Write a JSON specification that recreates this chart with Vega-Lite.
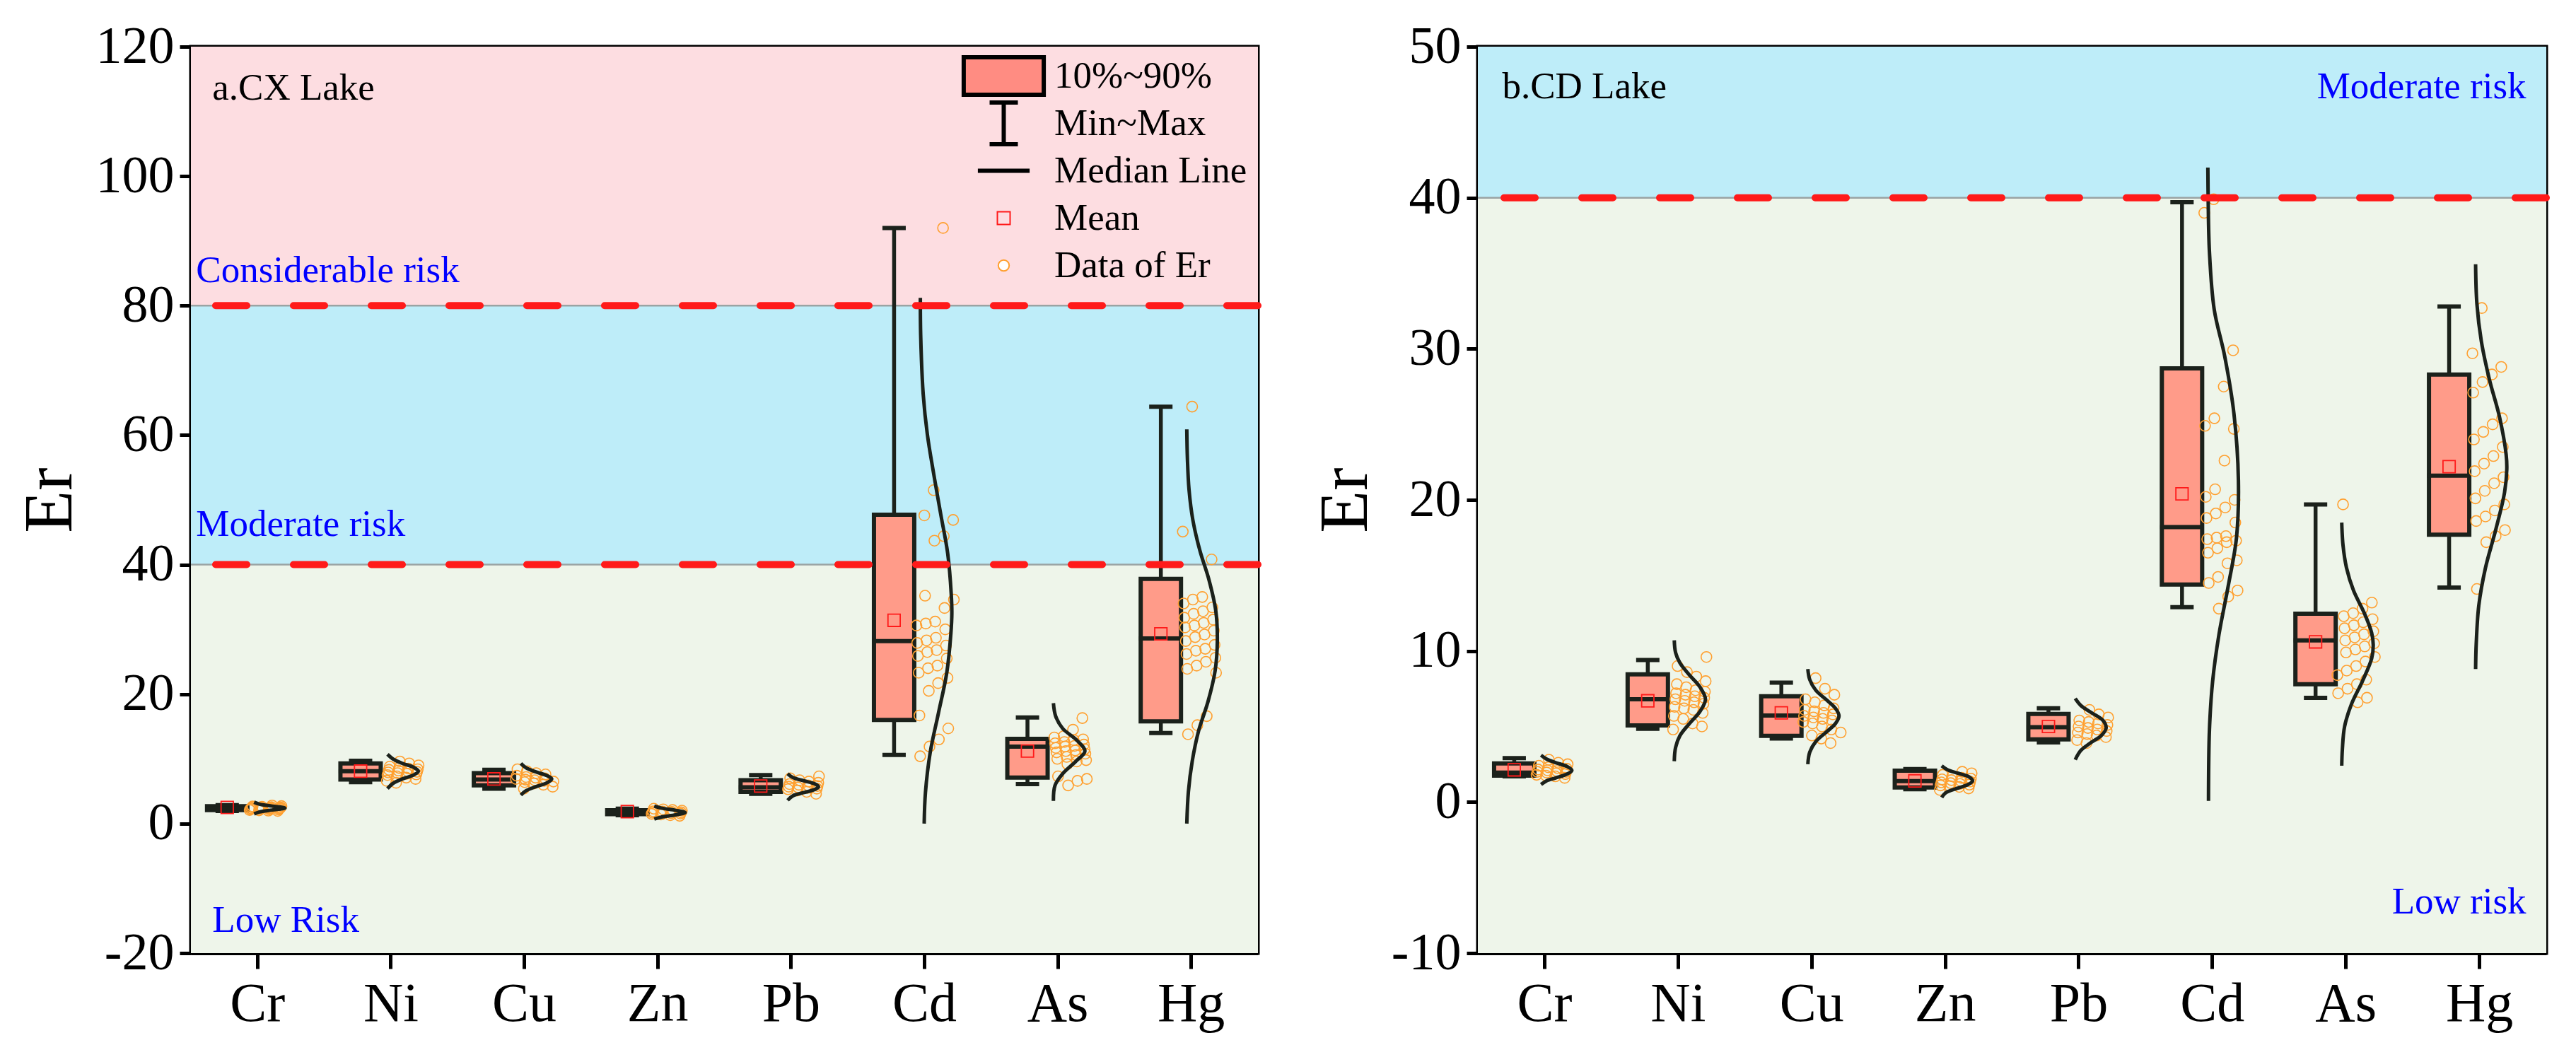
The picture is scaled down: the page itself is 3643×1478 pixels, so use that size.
{
  "$schema": "https://vega.github.io/schema/vega-lite/v6.json",
  "background": "white",
  "padding": {"left": 19, "top": 26, "right": 5, "bottom": 0},
  "config": {
    "font": "Liberation Serif",
    "view": {"stroke": "black", "strokeWidth": 5},
    "axis": {"labelFont": "Liberation Serif", "titleFont": "Liberation Serif", "domainWidth": 5, "domainColor": "black", "tickWidth": 5, "tickColor": "black", "labelColor": "black", "titleColor": "black", "grid": false},
    "axisY": {"labelFontSize": 74, "labelPadding": 8, "tickSize": 16, "titleFontSize": 98, "titlePadding": 14, "titleFontWeight": "normal", "labelFlush": false, "labelOverlap": false, "labelExpr": "'' + datum.value"},
    "axisX": {"labelFontSize": 78, "labelPadding": 11, "tickSize": 22, "labelAngle": 0, "bandPosition": 0.5}
  },
  "resolve": {
    "scale": {"color": "independent", "shape": "independent", "fill": "independent", "stroke": "independent", "strokeWidth": "independent"},
    "legend": {"color": "independent", "shape": "independent", "fill": "independent", "stroke": "independent", "strokeWidth": "independent"}
  },
  "datasets": {
    "bands": [
      {"lake": "a", "zone": "Low", "lo": -20, "hi": 40},
      {"lake": "a", "zone": "Moderate", "lo": 40, "hi": 80},
      {"lake": "a", "zone": "Considerable", "lo": 80, "hi": 120},
      {"lake": "b", "zone": "Low", "lo": -10, "hi": 40},
      {"lake": "b", "zone": "Moderate", "lo": 40, "hi": 50}
    ],
    "thr": [
      {"lake": "a", "v": 40}, {"lake": "a", "v": 80}, {"lake": "b", "v": 40}
    ],
    "notes": [
      {"lake": "a", "kind": "title", "side": "left", "text": "a.CX Lake", "y": 111.8},
      {"lake": "a", "kind": "risk", "side": "left2", "text": "Considerable risk", "y": 83.6},
      {"lake": "a", "kind": "risk", "side": "left2", "text": "Moderate risk", "y": 44.4},
      {"lake": "a", "kind": "risk", "side": "left", "text": "Low Risk", "y": -16.7},
      {"lake": "b", "kind": "title", "side": "left", "text": "b.CD Lake", "y": 46.6},
      {"lake": "b", "kind": "risk", "side": "right", "text": "Moderate risk", "y": 46.6},
      {"lake": "b", "kind": "risk", "side": "right", "text": "Low risk", "y": -7.4}
    ],
    "box": [
      {"lake": "a", "el": "Cr", "min": 1.95, "p10": 2.1, "med": 2.35, "p90": 2.7, "max": 2.85, "mean": 2.5},
      {"lake": "a", "el": "Ni", "min": 6.4, "p10": 6.8, "med": 8.1, "p90": 9.3, "max": 9.7, "mean": 8.1},
      {"lake": "a", "el": "Cu", "min": 5.4, "p10": 5.9, "med": 6.8, "p90": 7.8, "max": 8.3, "mean": 6.9},
      {"lake": "a", "el": "Zn", "min": 1.3, "p10": 1.45, "med": 1.75, "p90": 2.05, "max": 2.3, "mean": 1.85},
      {"lake": "a", "el": "Pb", "min": 4.6, "p10": 4.9, "med": 5.6, "p90": 6.7, "max": 7.5, "mean": 5.8},
      {"lake": "a", "el": "Cd", "min": 10.6, "p10": 16.0, "med": 28.2, "p90": 47.7, "max": 92.0, "mean": 31.4},
      {"lake": "a", "el": "As", "min": 6.1, "p10": 7.1, "med": 11.9, "p90": 13.1, "max": 16.4, "mean": 11.2},
      {"lake": "a", "el": "Hg", "min": 14.0, "p10": 15.8, "med": 28.6, "p90": 37.8, "max": 64.4, "mean": 29.3},
      {"lake": "b", "el": "Cr", "min": 1.7, "p10": 1.75, "med": 1.95, "p90": 2.55, "max": 2.9, "mean": 2.13},
      {"lake": "b", "el": "Ni", "min": 4.85, "p10": 5.07, "med": 6.8, "p90": 8.45, "max": 9.4, "mean": 6.7},
      {"lake": "b", "el": "Cu", "min": 4.2, "p10": 4.38, "med": 5.73, "p90": 7.0, "max": 7.9, "mean": 5.9},
      {"lake": "b", "el": "Zn", "min": 0.85, "p10": 0.96, "med": 1.38, "p90": 2.08, "max": 2.18, "mean": 1.4},
      {"lake": "b", "el": "Pb", "min": 3.95, "p10": 4.15, "med": 4.95, "p90": 5.83, "max": 6.2, "mean": 5.0},
      {"lake": "b", "el": "Cd", "min": 12.9, "p10": 14.4, "med": 18.2, "p90": 28.7, "max": 39.7, "mean": 20.4},
      {"lake": "b", "el": "As", "min": 6.9, "p10": 7.8, "med": 10.7, "p90": 12.46, "max": 19.7, "mean": 10.6},
      {"lake": "b", "el": "Hg", "min": 14.2, "p10": 17.7, "med": 21.6, "p90": 28.3, "max": 32.8, "mean": 22.2}
    ],
    "curve": [
      {"lake": "a", "el": "Cr", "v": 3.3, "d": 0.03}, {"lake": "a", "el": "Cr", "v": 3.0, "d": 0.2}, {"lake": "a", "el": "Cr", "v": 2.7, "d": 0.6}, {"lake": "a", "el": "Cr", "v": 2.4, "d": 1.0}, {"lake": "a", "el": "Cr", "v": 2.1, "d": 0.6}, {"lake": "a", "el": "Cr", "v": 1.8, "d": 0.2}, {"lake": "a", "el": "Cr", "v": 1.5, "d": 0.03},
      {"lake": "a", "el": "Ni", "v": 10.7, "d": 0.03}, {"lake": "a", "el": "Ni", "v": 10.0, "d": 0.2}, {"lake": "a", "el": "Ni", "v": 9.3, "d": 0.5}, {"lake": "a", "el": "Ni", "v": 8.7, "d": 0.85}, {"lake": "a", "el": "Ni", "v": 8.1, "d": 1.0}, {"lake": "a", "el": "Ni", "v": 7.5, "d": 0.85}, {"lake": "a", "el": "Ni", "v": 6.9, "d": 0.5}, {"lake": "a", "el": "Ni", "v": 6.2, "d": 0.2}, {"lake": "a", "el": "Ni", "v": 5.4, "d": 0.03},
      {"lake": "a", "el": "Cu", "v": 9.3, "d": 0.03}, {"lake": "a", "el": "Cu", "v": 8.6, "d": 0.2}, {"lake": "a", "el": "Cu", "v": 8.0, "d": 0.5}, {"lake": "a", "el": "Cu", "v": 7.4, "d": 0.85}, {"lake": "a", "el": "Cu", "v": 6.9, "d": 1.0}, {"lake": "a", "el": "Cu", "v": 6.3, "d": 0.85}, {"lake": "a", "el": "Cu", "v": 5.7, "d": 0.5}, {"lake": "a", "el": "Cu", "v": 5.1, "d": 0.2}, {"lake": "a", "el": "Cu", "v": 4.4, "d": 0.03},
      {"lake": "a", "el": "Zn", "v": 2.7, "d": 0.03}, {"lake": "a", "el": "Zn", "v": 2.4, "d": 0.25}, {"lake": "a", "el": "Zn", "v": 2.05, "d": 0.7}, {"lake": "a", "el": "Zn", "v": 1.7, "d": 1.0}, {"lake": "a", "el": "Zn", "v": 1.35, "d": 0.7}, {"lake": "a", "el": "Zn", "v": 1.0, "d": 0.25}, {"lake": "a", "el": "Zn", "v": 0.7, "d": 0.03},
      {"lake": "a", "el": "Pb", "v": 7.7, "d": 0.03}, {"lake": "a", "el": "Pb", "v": 7.1, "d": 0.2}, {"lake": "a", "el": "Pb", "v": 6.6, "d": 0.55}, {"lake": "a", "el": "Pb", "v": 6.1, "d": 0.9}, {"lake": "a", "el": "Pb", "v": 5.7, "d": 1.0}, {"lake": "a", "el": "Pb", "v": 5.3, "d": 0.9}, {"lake": "a", "el": "Pb", "v": 4.8, "d": 0.55}, {"lake": "a", "el": "Pb", "v": 4.3, "d": 0.2}, {"lake": "a", "el": "Pb", "v": 3.6, "d": 0.03},
      {"lake": "a", "el": "Cd", "v": 81.2, "d": 0.01}, {"lake": "a", "el": "Cd", "v": 75.5, "d": 0.02}, {"lake": "a", "el": "Cd", "v": 66.3, "d": 0.1}, {"lake": "a", "el": "Cd", "v": 60.1, "d": 0.23}, {"lake": "a", "el": "Cd", "v": 54.0, "d": 0.43}, {"lake": "a", "el": "Cd", "v": 47.8, "d": 0.65}, {"lake": "a", "el": "Cd", "v": 41.7, "d": 0.87}, {"lake": "a", "el": "Cd", "v": 35.5, "d": 0.98}, {"lake": "a", "el": "Cd", "v": 32.5, "d": 1.0}, {"lake": "a", "el": "Cd", "v": 29.4, "d": 0.97}, {"lake": "a", "el": "Cd", "v": 23.3, "d": 0.84}, {"lake": "a", "el": "Cd", "v": 17.1, "d": 0.58}, {"lake": "a", "el": "Cd", "v": 11.0, "d": 0.32}, {"lake": "a", "el": "Cd", "v": 4.8, "d": 0.17}, {"lake": "a", "el": "Cd", "v": 0.0, "d": 0.13},
      {"lake": "a", "el": "As", "v": 18.6, "d": 0.0}, {"lake": "a", "el": "As", "v": 16.6, "d": 0.07}, {"lake": "a", "el": "As", "v": 14.7, "d": 0.29}, {"lake": "a", "el": "As", "v": 12.9, "d": 0.73}, {"lake": "a", "el": "As", "v": 11.2, "d": 0.99}, {"lake": "a", "el": "As", "v": 9.6, "d": 0.7}, {"lake": "a", "el": "As", "v": 7.7, "d": 0.29}, {"lake": "a", "el": "As", "v": 5.9, "d": 0.05}, {"lake": "a", "el": "As", "v": 3.5, "d": 0.0},
      {"lake": "a", "el": "Hg", "v": 60.9, "d": 0.0}, {"lake": "a", "el": "Hg", "v": 56.3, "d": 0.02}, {"lake": "a", "el": "Hg", "v": 51.6, "d": 0.07}, {"lake": "a", "el": "Hg", "v": 46.9, "d": 0.19}, {"lake": "a", "el": "Hg", "v": 42.2, "d": 0.41}, {"lake": "a", "el": "Hg", "v": 37.6, "d": 0.7}, {"lake": "a", "el": "Hg", "v": 32.9, "d": 0.91}, {"lake": "a", "el": "Hg", "v": 28.3, "d": 0.96}, {"lake": "a", "el": "Hg", "v": 23.6, "d": 0.89}, {"lake": "a", "el": "Hg", "v": 18.9, "d": 0.67}, {"lake": "a", "el": "Hg", "v": 14.3, "d": 0.37}, {"lake": "a", "el": "Hg", "v": 9.6, "d": 0.17}, {"lake": "a", "el": "Hg", "v": 4.9, "d": 0.05}, {"lake": "a", "el": "Hg", "v": 0.0, "d": 0.0},
      {"lake": "b", "el": "Cr", "v": 3.1, "d": 0.03}, {"lake": "b", "el": "Cr", "v": 2.85, "d": 0.2}, {"lake": "b", "el": "Cr", "v": 2.6, "d": 0.5}, {"lake": "b", "el": "Cr", "v": 2.35, "d": 0.85}, {"lake": "b", "el": "Cr", "v": 2.1, "d": 1.0}, {"lake": "b", "el": "Cr", "v": 1.85, "d": 0.85}, {"lake": "b", "el": "Cr", "v": 1.6, "d": 0.5}, {"lake": "b", "el": "Cr", "v": 1.4, "d": 0.2}, {"lake": "b", "el": "Cr", "v": 1.16, "d": 0.03},
      {"lake": "b", "el": "Ni", "v": 10.7, "d": 0.02}, {"lake": "b", "el": "Ni", "v": 9.9, "d": 0.06}, {"lake": "b", "el": "Ni", "v": 9.2, "d": 0.2}, {"lake": "b", "el": "Ni", "v": 8.4, "d": 0.5}, {"lake": "b", "el": "Ni", "v": 7.6, "d": 0.83}, {"lake": "b", "el": "Ni", "v": 6.8, "d": 1.0}, {"lake": "b", "el": "Ni", "v": 6.0, "d": 0.83}, {"lake": "b", "el": "Ni", "v": 5.2, "d": 0.5}, {"lake": "b", "el": "Ni", "v": 4.4, "d": 0.2}, {"lake": "b", "el": "Ni", "v": 3.6, "d": 0.06}, {"lake": "b", "el": "Ni", "v": 2.7, "d": 0.02},
      {"lake": "b", "el": "Cu", "v": 8.8, "d": 0.02}, {"lake": "b", "el": "Cu", "v": 8.1, "d": 0.08}, {"lake": "b", "el": "Cu", "v": 7.4, "d": 0.27}, {"lake": "b", "el": "Cu", "v": 6.7, "d": 0.64}, {"lake": "b", "el": "Cu", "v": 6.2, "d": 0.89}, {"lake": "b", "el": "Cu", "v": 5.7, "d": 1.0}, {"lake": "b", "el": "Cu", "v": 5.2, "d": 0.89}, {"lake": "b", "el": "Cu", "v": 4.7, "d": 0.64}, {"lake": "b", "el": "Cu", "v": 4.0, "d": 0.27}, {"lake": "b", "el": "Cu", "v": 3.3, "d": 0.08}, {"lake": "b", "el": "Cu", "v": 2.5, "d": 0.02},
      {"lake": "b", "el": "Zn", "v": 2.4, "d": 0.03}, {"lake": "b", "el": "Zn", "v": 2.15, "d": 0.2}, {"lake": "b", "el": "Zn", "v": 1.9, "d": 0.55}, {"lake": "b", "el": "Zn", "v": 1.65, "d": 0.9}, {"lake": "b", "el": "Zn", "v": 1.4, "d": 1.0}, {"lake": "b", "el": "Zn", "v": 1.15, "d": 0.85}, {"lake": "b", "el": "Zn", "v": 0.9, "d": 0.5}, {"lake": "b", "el": "Zn", "v": 0.6, "d": 0.15}, {"lake": "b", "el": "Zn", "v": 0.3, "d": 0.03},
      {"lake": "b", "el": "Pb", "v": 6.85, "d": 0.03}, {"lake": "b", "el": "Pb", "v": 6.4, "d": 0.2}, {"lake": "b", "el": "Pb", "v": 5.9, "d": 0.55}, {"lake": "b", "el": "Pb", "v": 5.4, "d": 0.9}, {"lake": "b", "el": "Pb", "v": 4.9, "d": 1.0}, {"lake": "b", "el": "Pb", "v": 4.4, "d": 0.85}, {"lake": "b", "el": "Pb", "v": 3.9, "d": 0.5}, {"lake": "b", "el": "Pb", "v": 3.4, "d": 0.2}, {"lake": "b", "el": "Pb", "v": 2.8, "d": 0.03},
      {"lake": "b", "el": "Cd", "v": 42.0, "d": 0.0}, {"lake": "b", "el": "Cd", "v": 39.9, "d": 0.01}, {"lake": "b", "el": "Cd", "v": 36.4, "d": 0.05}, {"lake": "b", "el": "Cd", "v": 32.6, "d": 0.2}, {"lake": "b", "el": "Cd", "v": 29.5, "d": 0.53}, {"lake": "b", "el": "Cd", "v": 25.7, "d": 0.82}, {"lake": "b", "el": "Cd", "v": 21.3, "d": 0.96}, {"lake": "b", "el": "Cd", "v": 17.5, "d": 0.9}, {"lake": "b", "el": "Cd", "v": 14.3, "d": 0.64}, {"lake": "b", "el": "Cd", "v": 11.1, "d": 0.35}, {"lake": "b", "el": "Cd", "v": 8.0, "d": 0.15}, {"lake": "b", "el": "Cd", "v": 4.8, "d": 0.05}, {"lake": "b", "el": "Cd", "v": 0.07, "d": 0.02},
      {"lake": "b", "el": "As", "v": 18.5, "d": 0.01}, {"lake": "b", "el": "As", "v": 17.0, "d": 0.05}, {"lake": "b", "el": "As", "v": 15.5, "d": 0.16}, {"lake": "b", "el": "As", "v": 14.0, "d": 0.38}, {"lake": "b", "el": "As", "v": 12.5, "d": 0.72}, {"lake": "b", "el": "As", "v": 11.2, "d": 0.95}, {"lake": "b", "el": "As", "v": 10.4, "d": 1.0}, {"lake": "b", "el": "As", "v": 9.5, "d": 0.95}, {"lake": "b", "el": "As", "v": 8.0, "d": 0.66}, {"lake": "b", "el": "As", "v": 6.5, "d": 0.32}, {"lake": "b", "el": "As", "v": 5.0, "d": 0.1}, {"lake": "b", "el": "As", "v": 3.5, "d": 0.03}, {"lake": "b", "el": "As", "v": 2.4, "d": 0.01},
      {"lake": "b", "el": "Hg", "v": 35.6, "d": 0.02}, {"lake": "b", "el": "Hg", "v": 33.0, "d": 0.06}, {"lake": "b", "el": "Hg", "v": 30.5, "d": 0.2}, {"lake": "b", "el": "Hg", "v": 28.0, "d": 0.45}, {"lake": "b", "el": "Hg", "v": 25.5, "d": 0.77}, {"lake": "b", "el": "Hg", "v": 23.0, "d": 0.98}, {"lake": "b", "el": "Hg", "v": 22.0, "d": 1.0}, {"lake": "b", "el": "Hg", "v": 20.5, "d": 0.93}, {"lake": "b", "el": "Hg", "v": 18.0, "d": 0.65}, {"lake": "b", "el": "Hg", "v": 15.5, "d": 0.33}, {"lake": "b", "el": "Hg", "v": 13.0, "d": 0.12}, {"lake": "b", "el": "Hg", "v": 10.5, "d": 0.04}, {"lake": "b", "el": "Hg", "v": 8.8, "d": 0.02}
    ],
    "pts": [
      {"lake":"a","el":"Cr","v":1.95},{"lake":"a","el":"Cr","v":2.0},{"lake":"a","el":"Cr","v":2.05},{"lake":"a","el":"Cr","v":2.1},{"lake":"a","el":"Cr","v":2.15},{"lake":"a","el":"Cr","v":2.2},{"lake":"a","el":"Cr","v":2.2},{"lake":"a","el":"Cr","v":2.25},{"lake":"a","el":"Cr","v":2.3},{"lake":"a","el":"Cr","v":2.3},{"lake":"a","el":"Cr","v":2.35},{"lake":"a","el":"Cr","v":2.35},{"lake":"a","el":"Cr","v":2.4},{"lake":"a","el":"Cr","v":2.4},{"lake":"a","el":"Cr","v":2.45},{"lake":"a","el":"Cr","v":2.5},{"lake":"a","el":"Cr","v":2.5},{"lake":"a","el":"Cr","v":2.55},{"lake":"a","el":"Cr","v":2.6},{"lake":"a","el":"Cr","v":2.65},{"lake":"a","el":"Cr","v":2.7},{"lake":"a","el":"Cr","v":2.8},
      {"lake":"a","el":"Ni","v":6.3},{"lake":"a","el":"Ni","v":6.6},{"lake":"a","el":"Ni","v":6.9},{"lake":"a","el":"Ni","v":7.1},{"lake":"a","el":"Ni","v":7.3},{"lake":"a","el":"Ni","v":7.5},{"lake":"a","el":"Ni","v":7.6},{"lake":"a","el":"Ni","v":7.7},{"lake":"a","el":"Ni","v":7.8},{"lake":"a","el":"Ni","v":7.9},{"lake":"a","el":"Ni","v":8.0},{"lake":"a","el":"Ni","v":8.1},{"lake":"a","el":"Ni","v":8.2},{"lake":"a","el":"Ni","v":8.3},{"lake":"a","el":"Ni","v":8.4},{"lake":"a","el":"Ni","v":8.5},{"lake":"a","el":"Ni","v":8.6},{"lake":"a","el":"Ni","v":8.8},{"lake":"a","el":"Ni","v":9.0},{"lake":"a","el":"Ni","v":9.3},{"lake":"a","el":"Ni","v":9.6},
      {"lake":"a","el":"Cu","v":5.4},{"lake":"a","el":"Cu","v":5.7},{"lake":"a","el":"Cu","v":6.0},{"lake":"a","el":"Cu","v":6.2},{"lake":"a","el":"Cu","v":6.4},{"lake":"a","el":"Cu","v":6.5},{"lake":"a","el":"Cu","v":6.6},{"lake":"a","el":"Cu","v":6.7},{"lake":"a","el":"Cu","v":6.8},{"lake":"a","el":"Cu","v":6.9},{"lake":"a","el":"Cu","v":7.0},{"lake":"a","el":"Cu","v":7.1},{"lake":"a","el":"Cu","v":7.2},{"lake":"a","el":"Cu","v":7.4},{"lake":"a","el":"Cu","v":7.6},{"lake":"a","el":"Cu","v":7.8},{"lake":"a","el":"Cu","v":8.1},{"lake":"a","el":"Cu","v":8.4},
      {"lake":"a","el":"Zn","v":1.2},{"lake":"a","el":"Zn","v":1.3},{"lake":"a","el":"Zn","v":1.4},{"lake":"a","el":"Zn","v":1.5},{"lake":"a","el":"Zn","v":1.55},{"lake":"a","el":"Zn","v":1.6},{"lake":"a","el":"Zn","v":1.65},{"lake":"a","el":"Zn","v":1.7},{"lake":"a","el":"Zn","v":1.75},{"lake":"a","el":"Zn","v":1.8},{"lake":"a","el":"Zn","v":1.85},{"lake":"a","el":"Zn","v":1.9},{"lake":"a","el":"Zn","v":2.0},{"lake":"a","el":"Zn","v":2.1},{"lake":"a","el":"Zn","v":2.2},{"lake":"a","el":"Zn","v":2.3},
      {"lake":"a","el":"Pb","v":4.6},{"lake":"a","el":"Pb","v":4.9},{"lake":"a","el":"Pb","v":5.1},{"lake":"a","el":"Pb","v":5.3},{"lake":"a","el":"Pb","v":5.4},{"lake":"a","el":"Pb","v":5.5},{"lake":"a","el":"Pb","v":5.6},{"lake":"a","el":"Pb","v":5.7},{"lake":"a","el":"Pb","v":5.8},{"lake":"a","el":"Pb","v":5.9},{"lake":"a","el":"Pb","v":6.0},{"lake":"a","el":"Pb","v":6.1},{"lake":"a","el":"Pb","v":6.3},{"lake":"a","el":"Pb","v":6.5},{"lake":"a","el":"Pb","v":6.7},{"lake":"a","el":"Pb","v":7.0},{"lake":"a","el":"Pb","v":7.3},
      {"lake":"a","el":"Cd","v":92.0},{"lake":"a","el":"Cd","v":51.5},{"lake":"a","el":"Cd","v":47.6},{"lake":"a","el":"Cd","v":46.9},{"lake":"a","el":"Cd","v":44.4},{"lake":"a","el":"Cd","v":43.7},{"lake":"a","el":"Cd","v":35.2},{"lake":"a","el":"Cd","v":34.6},{"lake":"a","el":"Cd","v":33.3},{"lake":"a","el":"Cd","v":31.2},{"lake":"a","el":"Cd","v":30.9},{"lake":"a","el":"Cd","v":30.6},{"lake":"a","el":"Cd","v":30.0},{"lake":"a","el":"Cd","v":28.7},{"lake":"a","el":"Cd","v":28.3},{"lake":"a","el":"Cd","v":27.9},{"lake":"a","el":"Cd","v":27.5},{"lake":"a","el":"Cd","v":26.8},{"lake":"a","el":"Cd","v":26.5},{"lake":"a","el":"Cd","v":25.9},{"lake":"a","el":"Cd","v":25.5},{"lake":"a","el":"Cd","v":24.4},{"lake":"a","el":"Cd","v":24.0},{"lake":"a","el":"Cd","v":23.3},{"lake":"a","el":"Cd","v":22.5},{"lake":"a","el":"Cd","v":21.7},{"lake":"a","el":"Cd","v":20.5},{"lake":"a","el":"Cd","v":16.7},{"lake":"a","el":"Cd","v":14.7},{"lake":"a","el":"Cd","v":13.0},{"lake":"a","el":"Cd","v":11.9},{"lake":"a","el":"Cd","v":10.4},
      {"lake":"a","el":"As","v":16.3},{"lake":"a","el":"As","v":14.5},{"lake":"a","el":"As","v":13.5},{"lake":"a","el":"As","v":13.3},{"lake":"a","el":"As","v":13.0},{"lake":"a","el":"As","v":12.9},{"lake":"a","el":"As","v":12.6},{"lake":"a","el":"As","v":12.4},{"lake":"a","el":"As","v":12.2},{"lake":"a","el":"As","v":12.0},{"lake":"a","el":"As","v":11.9},{"lake":"a","el":"As","v":11.7},{"lake":"a","el":"As","v":11.5},{"lake":"a","el":"As","v":11.3},{"lake":"a","el":"As","v":11.2},{"lake":"a","el":"As","v":11.0},{"lake":"a","el":"As","v":10.8},{"lake":"a","el":"As","v":10.6},{"lake":"a","el":"As","v":10.3},{"lake":"a","el":"As","v":10.0},{"lake":"a","el":"As","v":9.8},{"lake":"a","el":"As","v":9.6},{"lake":"a","el":"As","v":9.2},{"lake":"a","el":"As","v":7.3},{"lake":"a","el":"As","v":6.9},{"lake":"a","el":"As","v":6.6},{"lake":"a","el":"As","v":5.9},
      {"lake":"a","el":"Hg","v":64.4},{"lake":"a","el":"Hg","v":45.1},{"lake":"a","el":"Hg","v":40.8},{"lake":"a","el":"Hg","v":35.0},{"lake":"a","el":"Hg","v":34.6},{"lake":"a","el":"Hg","v":34.0},{"lake":"a","el":"Hg","v":33.4},{"lake":"a","el":"Hg","v":32.8},{"lake":"a","el":"Hg","v":32.4},{"lake":"a","el":"Hg","v":31.8},{"lake":"a","el":"Hg","v":31.5},{"lake":"a","el":"Hg","v":31.0},{"lake":"a","el":"Hg","v":30.6},{"lake":"a","el":"Hg","v":30.3},{"lake":"a","el":"Hg","v":29.8},{"lake":"a","el":"Hg","v":29.2},{"lake":"a","el":"Hg","v":28.8},{"lake":"a","el":"Hg","v":28.2},{"lake":"a","el":"Hg","v":27.6},{"lake":"a","el":"Hg","v":27.0},{"lake":"a","el":"Hg","v":26.7},{"lake":"a","el":"Hg","v":26.2},{"lake":"a","el":"Hg","v":25.6},{"lake":"a","el":"Hg","v":25.0},{"lake":"a","el":"Hg","v":24.4},{"lake":"a","el":"Hg","v":23.9},{"lake":"a","el":"Hg","v":23.3},{"lake":"a","el":"Hg","v":16.6},{"lake":"a","el":"Hg","v":15.2},{"lake":"a","el":"Hg","v":13.8},
      {"lake":"b","el":"Cr","v":1.6},{"lake":"b","el":"Cr","v":1.7},{"lake":"b","el":"Cr","v":1.75},{"lake":"b","el":"Cr","v":1.8},{"lake":"b","el":"Cr","v":1.85},{"lake":"b","el":"Cr","v":1.9},{"lake":"b","el":"Cr","v":1.95},{"lake":"b","el":"Cr","v":2.0},{"lake":"b","el":"Cr","v":2.0},{"lake":"b","el":"Cr","v":2.05},{"lake":"b","el":"Cr","v":2.1},{"lake":"b","el":"Cr","v":2.15},{"lake":"b","el":"Cr","v":2.2},{"lake":"b","el":"Cr","v":2.25},{"lake":"b","el":"Cr","v":2.3},{"lake":"b","el":"Cr","v":2.4},{"lake":"b","el":"Cr","v":2.5},{"lake":"b","el":"Cr","v":2.6},{"lake":"b","el":"Cr","v":2.8},
      {"lake":"b","el":"Ni","v":4.8},{"lake":"b","el":"Ni","v":5.0},{"lake":"b","el":"Ni","v":5.2},{"lake":"b","el":"Ni","v":5.5},{"lake":"b","el":"Ni","v":5.7},{"lake":"b","el":"Ni","v":5.9},{"lake":"b","el":"Ni","v":6.1},{"lake":"b","el":"Ni","v":6.2},{"lake":"b","el":"Ni","v":6.3},{"lake":"b","el":"Ni","v":6.5},{"lake":"b","el":"Ni","v":6.6},{"lake":"b","el":"Ni","v":6.7},{"lake":"b","el":"Ni","v":6.8},{"lake":"b","el":"Ni","v":6.9},{"lake":"b","el":"Ni","v":7.0},{"lake":"b","el":"Ni","v":7.1},{"lake":"b","el":"Ni","v":7.2},{"lake":"b","el":"Ni","v":7.3},{"lake":"b","el":"Ni","v":7.4},{"lake":"b","el":"Ni","v":7.6},{"lake":"b","el":"Ni","v":7.8},{"lake":"b","el":"Ni","v":8.0},{"lake":"b","el":"Ni","v":8.3},{"lake":"b","el":"Ni","v":8.6},{"lake":"b","el":"Ni","v":9.0},{"lake":"b","el":"Ni","v":9.6},
      {"lake":"b","el":"Cu","v":3.9},{"lake":"b","el":"Cu","v":4.2},{"lake":"b","el":"Cu","v":4.4},{"lake":"b","el":"Cu","v":4.6},{"lake":"b","el":"Cu","v":4.8},{"lake":"b","el":"Cu","v":5.0},{"lake":"b","el":"Cu","v":5.2},{"lake":"b","el":"Cu","v":5.3},{"lake":"b","el":"Cu","v":5.4},{"lake":"b","el":"Cu","v":5.5},{"lake":"b","el":"Cu","v":5.6},{"lake":"b","el":"Cu","v":5.7},{"lake":"b","el":"Cu","v":5.8},{"lake":"b","el":"Cu","v":5.9},{"lake":"b","el":"Cu","v":6.0},{"lake":"b","el":"Cu","v":6.1},{"lake":"b","el":"Cu","v":6.2},{"lake":"b","el":"Cu","v":6.4},{"lake":"b","el":"Cu","v":6.6},{"lake":"b","el":"Cu","v":6.8},{"lake":"b","el":"Cu","v":7.1},{"lake":"b","el":"Cu","v":7.5},{"lake":"b","el":"Cu","v":8.2},
      {"lake":"b","el":"Zn","v":0.8},{"lake":"b","el":"Zn","v":0.9},{"lake":"b","el":"Zn","v":1.0},{"lake":"b","el":"Zn","v":1.05},{"lake":"b","el":"Zn","v":1.1},{"lake":"b","el":"Zn","v":1.15},{"lake":"b","el":"Zn","v":1.2},{"lake":"b","el":"Zn","v":1.25},{"lake":"b","el":"Zn","v":1.3},{"lake":"b","el":"Zn","v":1.35},{"lake":"b","el":"Zn","v":1.4},{"lake":"b","el":"Zn","v":1.45},{"lake":"b","el":"Zn","v":1.5},{"lake":"b","el":"Zn","v":1.55},{"lake":"b","el":"Zn","v":1.6},{"lake":"b","el":"Zn","v":1.7},{"lake":"b","el":"Zn","v":1.8},{"lake":"b","el":"Zn","v":1.9},{"lake":"b","el":"Zn","v":2.0},
      {"lake":"b","el":"Pb","v":3.9},{"lake":"b","el":"Pb","v":4.1},{"lake":"b","el":"Pb","v":4.3},{"lake":"b","el":"Pb","v":4.4},{"lake":"b","el":"Pb","v":4.5},{"lake":"b","el":"Pb","v":4.6},{"lake":"b","el":"Pb","v":4.7},{"lake":"b","el":"Pb","v":4.8},{"lake":"b","el":"Pb","v":4.9},{"lake":"b","el":"Pb","v":5.0},{"lake":"b","el":"Pb","v":5.1},{"lake":"b","el":"Pb","v":5.2},{"lake":"b","el":"Pb","v":5.3},{"lake":"b","el":"Pb","v":5.4},{"lake":"b","el":"Pb","v":5.6},{"lake":"b","el":"Pb","v":5.8},{"lake":"b","el":"Pb","v":6.1},
      {"lake":"b","el":"Cd","v":39.9},{"lake":"b","el":"Cd","v":39.0},{"lake":"b","el":"Cd","v":29.9},{"lake":"b","el":"Cd","v":27.5},{"lake":"b","el":"Cd","v":25.4},{"lake":"b","el":"Cd","v":24.9},{"lake":"b","el":"Cd","v":24.7},{"lake":"b","el":"Cd","v":22.6},{"lake":"b","el":"Cd","v":20.7},{"lake":"b","el":"Cd","v":20.2},{"lake":"b","el":"Cd","v":20.0},{"lake":"b","el":"Cd","v":19.5},{"lake":"b","el":"Cd","v":19.1},{"lake":"b","el":"Cd","v":18.8},{"lake":"b","el":"Cd","v":18.5},{"lake":"b","el":"Cd","v":17.6},{"lake":"b","el":"Cd","v":17.5},{"lake":"b","el":"Cd","v":17.4},{"lake":"b","el":"Cd","v":17.3},{"lake":"b","el":"Cd","v":17.2},{"lake":"b","el":"Cd","v":16.8},{"lake":"b","el":"Cd","v":16.5},{"lake":"b","el":"Cd","v":16.0},{"lake":"b","el":"Cd","v":15.8},{"lake":"b","el":"Cd","v":14.9},{"lake":"b","el":"Cd","v":14.5},{"lake":"b","el":"Cd","v":14.0},{"lake":"b","el":"Cd","v":13.6},{"lake":"b","el":"Cd","v":12.8},
      {"lake":"b","el":"As","v":19.7},{"lake":"b","el":"As","v":13.2},{"lake":"b","el":"As","v":12.8},{"lake":"b","el":"As","v":12.5},{"lake":"b","el":"As","v":12.3},{"lake":"b","el":"As","v":12.1},{"lake":"b","el":"As","v":11.9},{"lake":"b","el":"As","v":11.7},{"lake":"b","el":"As","v":11.5},{"lake":"b","el":"As","v":11.3},{"lake":"b","el":"As","v":11.1},{"lake":"b","el":"As","v":10.9},{"lake":"b","el":"As","v":10.7},{"lake":"b","el":"As","v":10.5},{"lake":"b","el":"As","v":10.3},{"lake":"b","el":"As","v":10.1},{"lake":"b","el":"As","v":9.9},{"lake":"b","el":"As","v":9.6},{"lake":"b","el":"As","v":9.3},{"lake":"b","el":"As","v":9.0},{"lake":"b","el":"As","v":8.7},{"lake":"b","el":"As","v":8.4},{"lake":"b","el":"As","v":8.1},{"lake":"b","el":"As","v":7.8},{"lake":"b","el":"As","v":7.5},{"lake":"b","el":"As","v":7.2},{"lake":"b","el":"As","v":6.9},{"lake":"b","el":"As","v":6.6},
      {"lake":"b","el":"Hg","v":32.7},{"lake":"b","el":"Hg","v":29.7},{"lake":"b","el":"Hg","v":28.8},{"lake":"b","el":"Hg","v":28.3},{"lake":"b","el":"Hg","v":27.8},{"lake":"b","el":"Hg","v":27.1},{"lake":"b","el":"Hg","v":25.4},{"lake":"b","el":"Hg","v":25.0},{"lake":"b","el":"Hg","v":24.5},{"lake":"b","el":"Hg","v":24.0},{"lake":"b","el":"Hg","v":23.5},{"lake":"b","el":"Hg","v":22.9},{"lake":"b","el":"Hg","v":22.4},{"lake":"b","el":"Hg","v":21.9},{"lake":"b","el":"Hg","v":21.5},{"lake":"b","el":"Hg","v":21.1},{"lake":"b","el":"Hg","v":20.6},{"lake":"b","el":"Hg","v":20.1},{"lake":"b","el":"Hg","v":19.7},{"lake":"b","el":"Hg","v":19.3},{"lake":"b","el":"Hg","v":18.9},{"lake":"b","el":"Hg","v":18.6},{"lake":"b","el":"Hg","v":18.0},{"lake":"b","el":"Hg","v":17.6},{"lake":"b","el":"Hg","v":17.2},{"lake":"b","el":"Hg","v":14.1}
    ]
  },
  "spacing": 311,
  "bounds": "flush",
  "hconcat": [
    {
      "width": 1509,
      "height": 1282,
      "resolve": {"scale": {"xOffset": "independent"}},
      "layer": [
        {
          "data": {"name": "bands"},
          "transform": [{"filter": "datum.lake == 'a'"}],
          "mark": {"type": "rect"},
          "encoding": {
            "y": {"field": "lo", "type": "quantitative", "title": "Er", "scale": {"domain": [-20, 120], "nice": false, "zero": false}, "axis": {"values": [-20, 0, 20, 40, 60, 80, 100, 120]}},
            "y2": {"field": "hi"},
            "color": {"field": "zone", "type": "nominal", "scale": {"domain": ["Low", "Moderate", "Considerable"], "range": ["#EEF5EA", "#BEEDF9", "#FDDDE1"]}, "legend": null}
          }
        },
        {
          "data": {"name": "thr"},
          "transform": [{"filter": "datum.lake == 'a'"}],
          "mark": {"type": "rule", "color": "#9AA3A3", "strokeWidth": 2.5},
          "encoding": {"y": {"field": "v", "type": "quantitative", "title": "Er", "scale": {"domain": [-20, 120], "nice": false, "zero": false}}}
        },
        {
          "data": {"name": "box"},
          "transform": [{"filter": "datum.lake == 'a'"}],
          "mark": {"type": "rule", "color": "#1b211b", "strokeWidth": 5.5, "xOffset": -43},
          "encoding": {
            "x": {"field": "el", "type": "nominal", "title": null, "scale": {"domain": ["Cr", "Ni", "Cu", "Zn", "Pb", "Cd", "As", "Hg"], "paddingInner": 0, "paddingOuter": 0}},
            "y": {"field": "min", "type": "quantitative", "title": "Er", "scale": {"domain": [-20, 120], "nice": false, "zero": false}},
            "y2": {"field": "max"}
          }
        },
        {
          "data": {"name": "box"},
          "transform": [{"filter": "datum.lake == 'a'"}],
          "mark": {"type": "tick", "color": "#1b211b", "size": 33, "thickness": 6, "opacity": 1, "xOffset": -43},
          "encoding": {
            "x": {"field": "el", "type": "nominal", "title": null, "scale": {"domain": ["Cr", "Ni", "Cu", "Zn", "Pb", "Cd", "As", "Hg"], "paddingInner": 0, "paddingOuter": 0}},
            "y": {"field": "min", "type": "quantitative", "title": "Er", "scale": {"domain": [-20, 120], "nice": false, "zero": false}}
          }
        },
        {
          "data": {"name": "box"},
          "transform": [{"filter": "datum.lake == 'a'"}],
          "mark": {"type": "tick", "color": "#1b211b", "size": 33, "thickness": 6, "opacity": 1, "xOffset": -43},
          "encoding": {
            "x": {"field": "el", "type": "nominal", "title": null, "scale": {"domain": ["Cr", "Ni", "Cu", "Zn", "Pb", "Cd", "As", "Hg"], "paddingInner": 0, "paddingOuter": 0}},
            "y": {"field": "max", "type": "quantitative", "title": "Er", "scale": {"domain": [-20, 120], "nice": false, "zero": false}}
          }
        },
        {
          "data": {"name": "box"},
          "transform": [{"filter": "datum.lake == 'a'"}],
          "mark": {"type": "bar", "fill": "#FF9B89", "stroke": "#1b211b", "strokeWidth": 6, "width": 57, "opacity": 1, "xOffset": -43},
          "encoding": {
            "x": {"field": "el", "type": "nominal", "title": null, "scale": {"domain": ["Cr", "Ni", "Cu", "Zn", "Pb", "Cd", "As", "Hg"], "paddingInner": 0, "paddingOuter": 0}},
            "y": {"field": "p10", "type": "quantitative", "title": "Er", "scale": {"domain": [-20, 120], "nice": false, "zero": false}},
            "y2": {"field": "p90"}
          }
        },
        {
          "data": {"name": "box"},
          "transform": [{"filter": "datum.lake == 'a'"}],
          "mark": {"type": "tick", "color": "#1b211b", "size": 62, "thickness": 6, "opacity": 1, "xOffset": -43},
          "encoding": {
            "x": {"field": "el", "type": "nominal", "title": null, "scale": {"domain": ["Cr", "Ni", "Cu", "Zn", "Pb", "Cd", "As", "Hg"], "paddingInner": 0, "paddingOuter": 0}},
            "y": {"field": "med", "type": "quantitative", "title": "Er", "scale": {"domain": [-20, 120], "nice": false, "zero": false}}
          }
        },
        {
          "data": {"name": "box"},
          "transform": [{"filter": "datum.lake == 'a'"}],
          "mark": {"type": "point", "shape": "square", "size": 300, "filled": false, "stroke": "#FF1A1A", "strokeWidth": 1.8, "opacity": 1, "xOffset": -43},
          "encoding": {
            "x": {"field": "el", "type": "nominal", "title": null, "scale": {"domain": ["Cr", "Ni", "Cu", "Zn", "Pb", "Cd", "As", "Hg"], "paddingInner": 0, "paddingOuter": 0}},
            "y": {"field": "mean", "type": "quantitative", "title": "Er", "scale": {"domain": [-20, 120], "nice": false, "zero": false}}
          }
        },
        {
          "data": {"name": "pts"},
          "transform": [
            {"filter": "datum.lake == 'a'"},
            {"window": [{"op": "row_number", "as": "rn"}]},
            {"calculate": "(datum.rn * 0.7548776662) % 1", "as": "jit"}
          ],
          "mark": {"type": "point", "shape": "circle", "size": 225, "filled": false, "stroke": "#FFA030", "strokeWidth": 1.6, "opacity": 1},
          "encoding": {
            "x": {"field": "el", "type": "nominal", "title": null, "scale": {"domain": ["Cr", "Ni", "Cu", "Zn", "Pb", "Cd", "As", "Hg"], "paddingInner": 0, "paddingOuter": 0}},
            "xOffset": {"field": "jit", "type": "quantitative", "scale": {"domain": [0, 1], "range": [82, 136]}},
            "y": {"field": "v", "type": "quantitative", "title": "Er", "scale": {"domain": [-20, 120], "nice": false, "zero": false}}
          }
        },
        {
          "data": {"name": "curve"},
          "transform": [{"filter": "datum.lake == 'a'"}],
          "mark": {"type": "line", "color": "#1b211b", "strokeWidth": 5, "interpolate": "catmull-rom"},
          "encoding": {
            "x": {"field": "el", "type": "nominal", "title": null, "scale": {"domain": ["Cr", "Ni", "Cu", "Zn", "Pb", "Cd", "As", "Hg"], "paddingInner": 0, "paddingOuter": 0}},
            "xOffset": {"field": "d", "type": "quantitative", "scale": {"domain": [0, 1], "range": [88, 133]}},
            "y": {"field": "v", "type": "quantitative", "title": "Er", "scale": {"domain": [-20, 120], "nice": false, "zero": false}},
            "detail": {"field": "el", "type": "nominal"},
            "order": {"field": "v", "type": "quantitative"}
          }
        },
        {
          "data": {"name": "thr"},
          "transform": [{"filter": "datum.lake == 'a'"}],
          "mark": {"type": "rule", "color": "#FF1A1A", "strokeWidth": 10, "strokeDash": [44, 66], "strokeCap": "round"},
          "encoding": {"y": {"field": "v", "type": "quantitative", "title": "Er", "scale": {"domain": [-20, 120], "nice": false, "zero": false}}}
        },
        {
          "data": {"name": "notes"},
          "transform": [{"filter": "datum.lake == 'a' && datum.side == 'left' && datum.kind == 'title'"}],
          "mark": {"type": "text", "align": "left", "baseline": "alphabetic", "dx": -64, "fontSize": 53, "font": "Liberation Serif", "color": "#000000"},
          "encoding": {
            "x": {"datum": "Cr", "type": "nominal"},
            "y": {"field": "y", "type": "quantitative", "title": "Er", "scale": {"domain": [-20, 120], "nice": false, "zero": false}},
            "text": {"field": "text"}
          }
        },
        {
          "data": {"name": "notes"},
          "transform": [{"filter": "datum.lake == 'a' && datum.side == 'left' && datum.kind == 'risk'"}],
          "mark": {"type": "text", "align": "left", "baseline": "alphabetic", "dx": -64, "fontSize": 53, "font": "Liberation Serif", "color": "#0000FF"},
          "encoding": {
            "x": {"datum": "Cr", "type": "nominal"},
            "y": {"field": "y", "type": "quantitative", "title": "Er", "scale": {"domain": [-20, 120], "nice": false, "zero": false}},
            "text": {"field": "text"}
          }
        },
        {
          "data": {"name": "notes"},
          "transform": [{"filter": "datum.lake == 'a' && datum.side == 'left2'"}],
          "mark": {"type": "text", "align": "left", "baseline": "alphabetic", "dx": -87, "fontSize": 53, "font": "Liberation Serif", "color": "#0000FF"},
          "encoding": {
            "x": {"datum": "Cr", "type": "nominal"},
            "y": {"field": "y", "type": "quantitative", "title": "Er", "scale": {"domain": [-20, 120], "nice": false, "zero": false}},
            "text": {"field": "text"}
          }
        },
        {
          "data": {"values": [{"item": "10%~90%"}, {"item": "Min~Max"}, {"item": "Median Line"}, {"item": "Mean"}, {"item": "Data of Er"}]},
          "transform": [{"filter": "false"}],
          "mark": {"type": "point", "filled": true, "opacity": 1},
          "encoding": {
            "shape": {"field": "item", "type": "nominal", "scale": {"domain": ["10%~90%", "Min~Max", "Median Line", "Mean", "Data of Er"], "range": ["M-5.66,-2.66H5.66V2.66H-5.66Z", "M-2,-2.95H2M0,-2.95V2.95M-2,2.95H2", "M-3.66,0H3.66", "M-0.9,-0.9H0.9V0.9H-0.9Z", "M0.77,0A0.77,0.77,0,1,1,-0.77,0A0.77,0.77,0,1,1,0.77,0Z"]}, "legend": {"title": null, "orient": "none", "legendX": 1085, "legendY": 8, "padding": 0, "symbolSize": 400, "symbolOffset": 38, "clipHeight": 67, "labelFontSize": 53, "labelFont": "Liberation Serif", "labelColor": "black", "labelOffset": 45, "rowPadding": 0, "labelLimit": 0}},
            "fill": {"field": "item", "type": "nominal", "scale": {"domain": ["10%~90%", "Min~Max", "Median Line", "Mean", "Data of Er"], "range": ["#FF8C82", "transparent", "transparent", "transparent", "#FFFFFF"]}},
            "stroke": {"field": "item", "type": "nominal", "scale": {"domain": ["10%~90%", "Min~Max", "Median Line", "Mean", "Data of Er"], "range": ["#000000", "#000000", "#000000", "#FF1A1A", "#FFA030"]}},
            "strokeWidth": {"field": "item", "type": "nominal", "scale": {"type": "ordinal", "domain": ["10%~90%", "Min~Max", "Median Line", "Mean", "Data of Er"], "range": [6, 6, 6, 2, 2]}}
          }
        }
      ]
    },
    {
      "width": 1511,
      "height": 1282,
      "resolve": {"scale": {"xOffset": "independent"}},
      "layer": [
        {
          "data": {"name": "bands"},
          "transform": [{"filter": "datum.lake == 'b'"}],
          "mark": {"type": "rect"},
          "encoding": {
            "y": {"field": "lo", "type": "quantitative", "title": "Er", "scale": {"domain": [-10, 50], "nice": false, "zero": false}, "axis": {"values": [-10, 0, 10, 20, 30, 40, 50]}},
            "y2": {"field": "hi"},
            "color": {"field": "zone", "type": "nominal", "scale": {"domain": ["Low", "Moderate", "Considerable"], "range": ["#EEF5EA", "#BEEDF9", "#FDDDE1"]}, "legend": null}
          }
        },
        {
          "data": {"name": "thr"},
          "transform": [{"filter": "datum.lake == 'b'"}],
          "mark": {"type": "rule", "color": "#9AA3A3", "strokeWidth": 2.5},
          "encoding": {"y": {"field": "v", "type": "quantitative", "title": "Er", "scale": {"domain": [-10, 50], "nice": false, "zero": false}}}
        },
        {
          "data": {"name": "box"},
          "transform": [{"filter": "datum.lake == 'b'"}],
          "mark": {"type": "rule", "color": "#1b211b", "strokeWidth": 5.5, "xOffset": -43},
          "encoding": {
            "x": {"field": "el", "type": "nominal", "title": null, "scale": {"domain": ["Cr", "Ni", "Cu", "Zn", "Pb", "Cd", "As", "Hg"], "paddingInner": 0, "paddingOuter": 0}},
            "y": {"field": "min", "type": "quantitative", "title": "Er", "scale": {"domain": [-10, 50], "nice": false, "zero": false}},
            "y2": {"field": "max"}
          }
        },
        {
          "data": {"name": "box"},
          "transform": [{"filter": "datum.lake == 'b'"}],
          "mark": {"type": "tick", "color": "#1b211b", "size": 33, "thickness": 6, "opacity": 1, "xOffset": -43},
          "encoding": {
            "x": {"field": "el", "type": "nominal", "title": null, "scale": {"domain": ["Cr", "Ni", "Cu", "Zn", "Pb", "Cd", "As", "Hg"], "paddingInner": 0, "paddingOuter": 0}},
            "y": {"field": "min", "type": "quantitative", "title": "Er", "scale": {"domain": [-10, 50], "nice": false, "zero": false}}
          }
        },
        {
          "data": {"name": "box"},
          "transform": [{"filter": "datum.lake == 'b'"}],
          "mark": {"type": "tick", "color": "#1b211b", "size": 33, "thickness": 6, "opacity": 1, "xOffset": -43},
          "encoding": {
            "x": {"field": "el", "type": "nominal", "title": null, "scale": {"domain": ["Cr", "Ni", "Cu", "Zn", "Pb", "Cd", "As", "Hg"], "paddingInner": 0, "paddingOuter": 0}},
            "y": {"field": "max", "type": "quantitative", "title": "Er", "scale": {"domain": [-10, 50], "nice": false, "zero": false}}
          }
        },
        {
          "data": {"name": "box"},
          "transform": [{"filter": "datum.lake == 'b'"}],
          "mark": {"type": "bar", "fill": "#FF9B89", "stroke": "#1b211b", "strokeWidth": 6, "width": 57, "opacity": 1, "xOffset": -43},
          "encoding": {
            "x": {"field": "el", "type": "nominal", "title": null, "scale": {"domain": ["Cr", "Ni", "Cu", "Zn", "Pb", "Cd", "As", "Hg"], "paddingInner": 0, "paddingOuter": 0}},
            "y": {"field": "p10", "type": "quantitative", "title": "Er", "scale": {"domain": [-10, 50], "nice": false, "zero": false}},
            "y2": {"field": "p90"}
          }
        },
        {
          "data": {"name": "box"},
          "transform": [{"filter": "datum.lake == 'b'"}],
          "mark": {"type": "tick", "color": "#1b211b", "size": 62, "thickness": 6, "opacity": 1, "xOffset": -43},
          "encoding": {
            "x": {"field": "el", "type": "nominal", "title": null, "scale": {"domain": ["Cr", "Ni", "Cu", "Zn", "Pb", "Cd", "As", "Hg"], "paddingInner": 0, "paddingOuter": 0}},
            "y": {"field": "med", "type": "quantitative", "title": "Er", "scale": {"domain": [-10, 50], "nice": false, "zero": false}}
          }
        },
        {
          "data": {"name": "box"},
          "transform": [{"filter": "datum.lake == 'b'"}],
          "mark": {"type": "point", "shape": "square", "size": 300, "filled": false, "stroke": "#FF1A1A", "strokeWidth": 1.8, "opacity": 1, "xOffset": -43},
          "encoding": {
            "x": {"field": "el", "type": "nominal", "title": null, "scale": {"domain": ["Cr", "Ni", "Cu", "Zn", "Pb", "Cd", "As", "Hg"], "paddingInner": 0, "paddingOuter": 0}},
            "y": {"field": "mean", "type": "quantitative", "title": "Er", "scale": {"domain": [-10, 50], "nice": false, "zero": false}}
          }
        },
        {
          "data": {"name": "pts"},
          "transform": [
            {"filter": "datum.lake == 'b'"},
            {"window": [{"op": "row_number", "as": "rn"}]},
            {"calculate": "(datum.rn * 0.7548776662) % 1", "as": "jit"}
          ],
          "mark": {"type": "point", "shape": "circle", "size": 225, "filled": false, "stroke": "#FFA030", "strokeWidth": 1.6, "opacity": 1},
          "encoding": {
            "x": {"field": "el", "type": "nominal", "title": null, "scale": {"domain": ["Cr", "Ni", "Cu", "Zn", "Pb", "Cd", "As", "Hg"], "paddingInner": 0, "paddingOuter": 0}},
            "xOffset": {"field": "jit", "type": "quantitative", "scale": {"domain": [0, 1], "range": [82, 136]}},
            "y": {"field": "v", "type": "quantitative", "title": "Er", "scale": {"domain": [-10, 50], "nice": false, "zero": false}}
          }
        },
        {
          "data": {"name": "curve"},
          "transform": [{"filter": "datum.lake == 'b'"}],
          "mark": {"type": "line", "color": "#1b211b", "strokeWidth": 5, "interpolate": "catmull-rom"},
          "encoding": {
            "x": {"field": "el", "type": "nominal", "title": null, "scale": {"domain": ["Cr", "Ni", "Cu", "Zn", "Pb", "Cd", "As", "Hg"], "paddingInner": 0, "paddingOuter": 0}},
            "xOffset": {"field": "d", "type": "quantitative", "scale": {"domain": [0, 1], "range": [88, 133]}},
            "y": {"field": "v", "type": "quantitative", "title": "Er", "scale": {"domain": [-10, 50], "nice": false, "zero": false}},
            "detail": {"field": "el", "type": "nominal"},
            "order": {"field": "v", "type": "quantitative"}
          }
        },
        {
          "data": {"name": "thr"},
          "transform": [{"filter": "datum.lake == 'b'"}],
          "mark": {"type": "rule", "color": "#FF1A1A", "strokeWidth": 10, "strokeDash": [44, 66], "strokeCap": "round"},
          "encoding": {"y": {"field": "v", "type": "quantitative", "title": "Er", "scale": {"domain": [-10, 50], "nice": false, "zero": false}}}
        },
        {
          "data": {"name": "notes"},
          "transform": [{"filter": "datum.lake == 'b' && datum.side == 'left'"}],
          "mark": {"type": "text", "align": "left", "baseline": "alphabetic", "dx": -60, "fontSize": 53, "font": "Liberation Serif", "color": "#000000"},
          "encoding": {
            "x": {"datum": "Cr", "type": "nominal"},
            "y": {"field": "y", "type": "quantitative", "title": "Er", "scale": {"domain": [-10, 50], "nice": false, "zero": false}},
            "text": {"field": "text"}
          }
        },
        {
          "data": {"name": "notes"},
          "transform": [{"filter": "datum.lake == 'b' && datum.side == 'right'"}],
          "mark": {"type": "text", "align": "right", "baseline": "alphabetic", "dx": 66, "fontSize": 53, "font": "Liberation Serif", "color": "#0000FF"},
          "encoding": {
            "x": {"datum": "Hg", "type": "nominal"},
            "y": {"field": "y", "type": "quantitative", "title": "Er", "scale": {"domain": [-10, 50], "nice": false, "zero": false}},
            "text": {"field": "text"}
          }
        }
      ]
    }
  ]
}
